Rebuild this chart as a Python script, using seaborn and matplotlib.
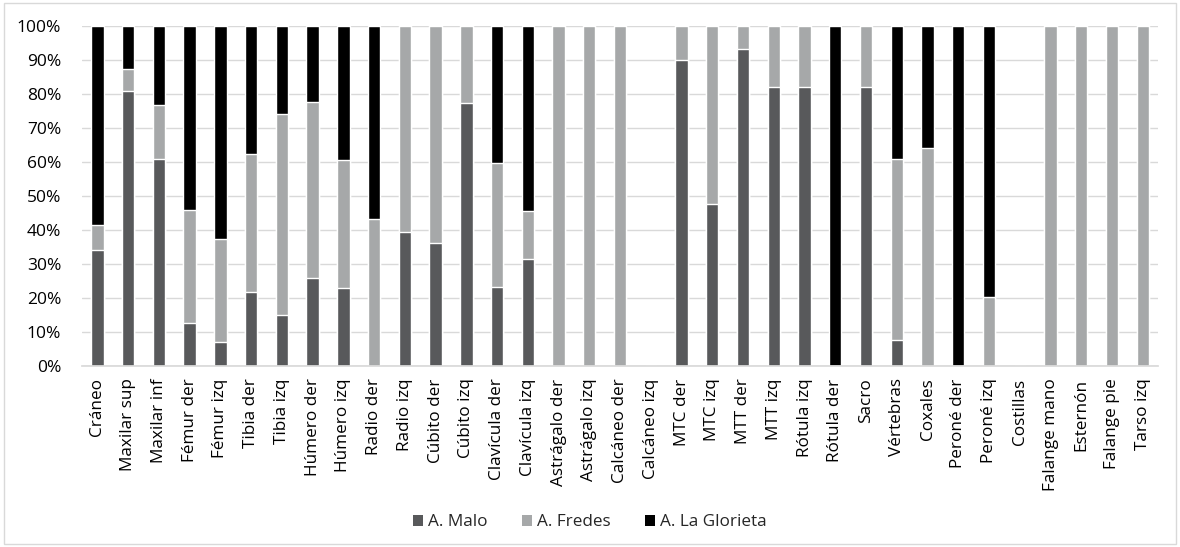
import matplotlib
matplotlib.use("Agg")
import matplotlib.pyplot as plt
import numpy as np
import pandas as pd
import seaborn as sns
from matplotlib.patches import Patch, Rectangle
from matplotlib.ticker import PercentFormatter

categories = [
    "Cráneo", "Maxilar sup", "Maxilar inf", "Fémur der", "Fémur izq",
    "Tibia der", "Tibia izq", "Húmero der", "Húmero izq", "Radio der",
    "Radio izq", "Cúbito der", "Cúbito izq", "Clavícula der", "Clavícula izq",
    "Astrágalo der", "Astrágalo izq", "Calcáneo der", "Calcáneo izq", "MTC der",
    "MTC izq", "MTT der", "MTT izq", "Rótula izq", "Rótula der",
    "Sacro", "Vértebras", "Coxales", "Peroné der", "Peroné izq",
    "Costillas", "Falange mano", "Esternón", "Falange pie", "Tarso izq",
]
malo = [34.0, 81.0, 61.0, 12.5, 7.1, 21.7, 15.0, 26.0, 22.9, 0.0,
        39.4, 36.2, 77.3, 23.3, 31.6, 0.0, 0.0, 0.0, 0.0, 90.0,
        47.6, 93.3, 82.0, 82.0, 0.0, 82.0, 7.5, 0.0, 0.0, 0.0,
        0.0, 0.0, 0.0, 0.0, 0.0]
fredes = [7.5, 6.5, 15.7, 33.3, 30.4, 40.8, 59.2, 51.6, 37.7, 43.4,
          60.6, 63.8, 22.7, 36.4, 13.9, 100.0, 100.0, 100.0, 0.0, 10.0,
          52.4, 6.7, 18.0, 18.0, 0.0, 18.0, 53.4, 64.2, 0.0, 20.3,
          0.0, 100.0, 100.0, 100.0, 100.0]
glorieta = [58.5, 12.5, 23.3, 54.2, 62.5, 37.5, 25.8, 22.4, 39.4, 56.6,
            0.0, 0.0, 0.0, 40.3, 54.5, 0.0, 0.0, 0.0, 0.0, 0.0,
            0.0, 0.0, 0.0, 0.0, 100.0, 0.0, 39.1, 35.8, 100.0, 79.7,
            0.0, 0.0, 0.0, 0.0, 0.0]
series = ["A. Malo", "A. Fredes", "A. La Glorieta"]
colors = ["#58595b", "#a6a8a9", "#000000"]

df = pd.DataFrame({"hueso": categories, "malo": malo, "fredes": fredes, "glorieta": glorieta})
df["c1"] = df["malo"]
df["c2"] = df["c1"] + df["fredes"]
df["c3"] = df["c2"] + df["glorieta"]

sns.set_theme(style="white")
plt.rcParams["font.family"] = ["Open Sans", "DejaVu Sans"]

fig = plt.figure(figsize=(11.8, 5.47), dpi=100)
ax = fig.add_axes([0.0695, 0.331, 0.912, 0.621])

# stacked bars: draw cumulative totals from top layer down
for col, color in zip(["c3", "c2", "c1"], colors[::-1]):
    sns.barplot(data=df, x="hueso", y=col, color=color, width=0.4,
                saturation=1, ax=ax, order=categories)

ax.set_ylim(0, 100)
ax.set_xlim(-0.5, len(categories) - 0.5)
ax.yaxis.set_major_locator(plt.MultipleLocator(10))
ax.yaxis.set_major_formatter(PercentFormatter(decimals=0))
ax.grid(axis="y", color="#d9d9d9", linewidth=1)
ax.set_axisbelow(True)
for s in ["top", "right", "left"]:
    ax.spines[s].set_visible(False)
ax.spines["bottom"].set_color("#d9d9d9")
ax.set_xlabel("")
ax.set_ylabel("")
ax.tick_params(axis="x", labelrotation=90, labelsize=12.3, colors="#000000", length=0, pad=9)
ax.tick_params(axis="y", labelsize=12.5, colors="#000000", length=0, pad=15)

handles = [Patch(facecolor=c, edgecolor="none") for c in colors]
fig.legend(handles, series, loc="center", bbox_to_anchor=(0.5, 0.045), ncol=3,
           frameon=False, fontsize=12.3, handlelength=0.6, handleheight=0.6,
           handletextpad=0.3, columnspacing=2.0)

fig.patches.append(Rectangle((0.003, 0.005), 0.994, 0.99, transform=fig.transFigure,
                             fill=False, edgecolor="#d9d9d9", linewidth=1))

fig.savefig("out.png", dpi=100)
